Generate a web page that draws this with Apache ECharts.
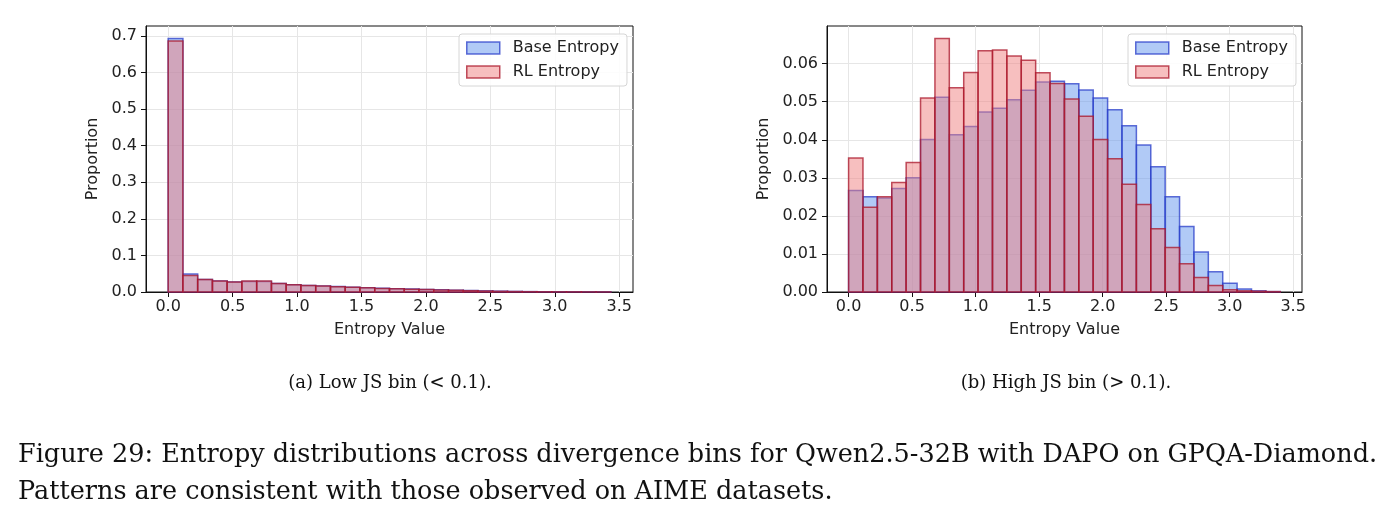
<!DOCTYPE html>
<html>
<head>
<meta charset="utf-8">
<script src="https://cdn.jsdelivr.net/npm/echarts@6/dist/echarts.min.js"></script>
<style>
  html, body { margin: 0; padding: 0; background: #fff; }
  #chart { width: 1397px; height: 526px; }
</style>
</head>
<body>
<div id="chart"></div>
<script>
// histogram bins: 30 equal bins from 0
const binWidthLow = 0.1145
const binWidthHigh = 0.1133
const xTicks = [0, 0.5, 1, 1.5, 2, 2.5, 3, 3.5]
const yTicksLow = [0, 0.1, 0.2, 0.3, 0.4, 0.5, 0.6, 0.7]
const yTicksHigh = [0, 0.01, 0.02, 0.03, 0.04, 0.05, 0.06]

// (a) low JS bin (< 0.1)
const baseLow = [0.693, 0.049, 0.034, 0.030, 0.027, 0.029, 0.029, 0.023, 0.020, 0.018,
  0.0165, 0.0147, 0.0132, 0.0116, 0.0101, 0.0092, 0.0082, 0.0070, 0.0060, 0.0050,
  0.0040, 0.0031, 0.0022, 0.0015, 0.0010, 0.0007, 0.0005, 0.0003, 0.0002, 0.0001]
const rlLow = [0.686, 0.045, 0.034, 0.030, 0.027, 0.030, 0.030, 0.023, 0.020, 0.018,
  0.0163, 0.0145, 0.0130, 0.0114, 0.0098, 0.0088, 0.0078, 0.0066, 0.0056, 0.0046,
  0.0036, 0.0026, 0.0018, 0.0012, 0.0008, 0.0005, 0.0004, 0.0003, 0.0002, 0.0001]

// (b) high JS bin (> 0.1)
const baseHigh = [0.0267, 0.0250, 0.0247, 0.0272, 0.0300, 0.0401, 0.0512, 0.0413, 0.0435, 0.0473,
  0.0483, 0.0505, 0.0530, 0.0552, 0.0554, 0.0547, 0.0531, 0.0510, 0.0479, 0.0437,
  0.0386, 0.0329, 0.0250, 0.0172, 0.0105, 0.0053, 0.0023, 0.0008, 0.0003, 0.0001]
const rlHigh = [0.0352, 0.0223, 0.0250, 0.0288, 0.0340, 0.0510, 0.0666, 0.0537, 0.0577, 0.0634,
  0.0636, 0.0620, 0.0609, 0.0576, 0.0548, 0.0507, 0.0462, 0.0401, 0.0350, 0.0283,
  0.0230, 0.0166, 0.0117, 0.0074, 0.0038, 0.0017, 0.0006, 0.0003, 0.0002, 0.0001]

const seriesNames = ['Base Entropy', 'RL Entropy']
const subCaptions = ['(a) Low JS bin (< 0.1).', '(b) High JS bin (> 0.1).']
const figCaption = ['Figure 29: Entropy distributions across divergence bins for Qwen2.5-32B with DAPO on GPQA-Diamond.',
  'Patterns are consistent with those observed on AIME datasets.']

const BLUE = { fill: 'rgba(100,149,237,0.5)', edge: 'rgba(40,60,200,0.75)' }
const RED = { fill: 'rgba(240,128,128,0.5)', edge: 'rgba(170,20,40,0.75)' }
const sans = 'DejaVu Sans'
const fs = 16

// [x0, x1, height]
function toBins(values, w) {
  return values.map((v, i) => [i * w, (i + 1) * w, v])
}

function histSeries(name, values, w, idx, col) {
  return {
    name: name,
    type: 'custom',
    xAxisIndex: idx,
    yAxisIndex: idx,
    itemStyle: { color: col.fill, borderColor: col.edge, borderWidth: 1.5 },
    encode: { x: [0, 1], y: 2 },
    data: toBins(values, w),
    renderItem: function (params, api) {
      let p0 = api.coord([api.value(0), api.value(2)])
      let p1 = api.coord([api.value(1), 0])
      return {
        type: 'rect',
        shape: { x: p0[0], y: p0[1], width: p1[0] - p0[0], height: p1[1] - p0[1] },
        style: { fill: col.fill, stroke: col.edge, lineWidth: 1.5 }
      }
    }
  }
}

function xAxisCfg(idx, min, max) {
  return {
    type: 'value',
    gridIndex: idx,
    min: min,
    max: max,
    minInterval: 0.5,
    maxInterval: 0.5,
    name: 'Entropy Value',
    nameLocation: 'middle',
    nameGap: 30,
    nameTextStyle: { fontFamily: sans, fontSize: fs, color: '#222' },
    axisLine: { show: true, onZero: false, lineStyle: { color: '#111', width: 1 } },
    axisTick: { show: true, length: 5, customValues: xTicks, lineStyle: { color: '#111' } },
    axisLabel: {
      fontFamily: sans, fontSize: fs, color: '#222', margin: 7,
      customValues: xTicks,
      formatter: v => v.toFixed(1)
    },
    splitLine: { show: true, lineStyle: { color: '#e6e6e6', width: 1 } }
  }
}

function yAxisCfg(idx, max, step, ticks, digits, gap) {
  return {
    type: 'value',
    gridIndex: idx,
    min: 0,
    max: max,
    interval: step,
    name: 'Proportion',
    nameLocation: 'middle',
    nameGap: gap,
    nameTextStyle: { fontFamily: sans, fontSize: fs, color: '#222' },
    axisLine: { show: true, onZero: false, lineStyle: { color: '#111', width: 1 } },
    axisTick: { show: true, length: 5, customValues: ticks, lineStyle: { color: '#111' } },
    axisLabel: {
      fontFamily: sans, fontSize: fs, color: '#222', margin: 9,
      customValues: ticks,
      formatter: v => v.toFixed(digits)
    },
    splitLine: { show: true, lineStyle: { color: '#e6e6e6', width: 1 } }
  }
}

function legendCfg(left) {
  return {
    orient: 'vertical',
    left: left,
    top: 34,
    padding: [6, 8, 6, 7],
    itemWidth: 33,
    itemHeight: 12,
    itemGap: 8,
    borderColor: '#d6d6d6',
    borderWidth: 1,
    borderRadius: 3,
    backgroundColor: 'rgba(255,255,255,0.85)',
    textStyle: { fontFamily: sans, fontSize: fs, color: '#222', padding: [0, 0, 0, 8] },
    data: [
      { name: seriesNames[0], icon: 'rect', itemStyle: { color: BLUE.fill, borderColor: BLUE.edge, borderWidth: 1.5 } },
      { name: seriesNames[1], icon: 'rect', itemStyle: { color: RED.fill, borderColor: RED.edge, borderWidth: 1.5 } }
    ]
  }
}

function caption(text, x, y, size, align) {
  return {
    type: 'text',
    x: x,
    y: y,
    style: {
      text: text,
      fontFamily: 'DejaVu Serif',
      fontSize: size,
      fill: '#111',
      align: align,
      verticalAlign: 'middle'
    }
  }
}

const chart = echarts.init(document.getElementById('chart'))
chart.setOption({
  backgroundColor: '#fff',
  animation: false,
  grid: [
    { left: 146, right: 764, top: 26, bottom: 234, show: true, borderColor: '#111', borderWidth: 1, backgroundColor: 'transparent' },
    { left: 827, right: 95, top: 26, bottom: 234, show: true, borderColor: '#111', borderWidth: 1, backgroundColor: 'transparent' }
  ],
  legend: [legendCfg(459), legendCfg(1128)],
  xAxis: [xAxisCfg(0, -0.172, 3.607), xAxisCfg(1, -0.170, 3.57)],
  yAxis: [yAxisCfg(0, 0.727, 0.1, yTicksLow, 1, 45), yAxisCfg(1, 0.0699, 0.01, yTicksHigh, 2, 55)],
  series: [
    histSeries(seriesNames[0], baseLow, binWidthLow, 0, BLUE),
    histSeries(seriesNames[1], rlLow, binWidthLow, 0, RED),
    histSeries(seriesNames[0], baseHigh, binWidthHigh, 1, BLUE),
    histSeries(seriesNames[1], rlHigh, binWidthHigh, 1, RED)
  ],
  graphic: [
    caption(subCaptions[0], 390, 383, 18, 'center'),
    caption(subCaptions[1], 1066, 383, 18, 'center'),
    caption(figCaption[0], 18, 455, 25.5, 'left'),
    caption(figCaption[1], 18, 492, 25.5, 'left')
  ]
})
</script>
</body>
</html>
